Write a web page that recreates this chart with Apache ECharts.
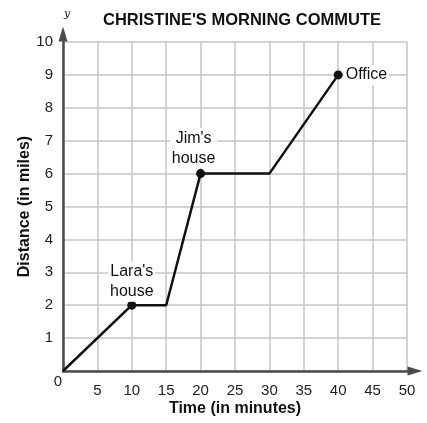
<!DOCTYPE html>
<html>
<head>
<meta charset="utf-8">
<script src="https://cdn.jsdelivr.net/npm/echarts@6/dist/echarts.min.js"></script>
<style>
  html, body { margin: 0; padding: 0; background: #fff; }
  #chart { width: 427px; height: 423px; }
</style>
</head>
<body>
<div id="chart"></div>
<script>
// Christine's trip: elapsed minutes vs. miles travelled
const times = [0, 10, 15, 20, 30, 40];
const distances = [0, 2, 2, 6, 6, 9];
const stopNames = ['', "Lara's\nhouse", '', "Jim's\nhouse", '', 'Office'];

const xTicks = [0, 5, 10, 15, 20, 25, 30, 35, 40, 45, 50];
const yTicks = [0, 1, 2, 3, 4, 5, 6, 7, 8, 9, 10];

const FONT = '"Liberation Sans", Arial, Helvetica, sans-serif';
const AXIS_COLOR = '#4a4a4a';
const GRID_COLOR = '#c4c4c4';

// label placement per stop
const labelStyle = {
  1: { position: 'top', distance: 6, offset: [0, 7] },
  3: { position: 'top', distance: 9, offset: [-7, 8] },
  5: { position: 'right', distance: 1, offset: [0, 0] }
};

const points = times.map((t, i) => {
  const item = { value: [t, distances[i]] };
  if (stopNames[i]) {
    const ls = labelStyle[i];
    item.symbol = 'circle';
    item.symbolSize = 9;
    item.label = {
      show: true,
      formatter: stopNames[i],
      position: ls.position,
      distance: ls.distance,
      offset: ls.offset,
      color: '#111',
      fontSize: 16,
      lineHeight: 20,
      fontFamily: FONT,
      backgroundColor: '#fff',
      padding: [0, 2, 0, 2]
    };
  } else {
    item.symbol = 'none';
  }
  return item;
});

const chart = echarts.init(document.getElementById('chart'), null, { renderer: 'canvas' });

chart.setOption({
  animation: false,
  backgroundColor: '#fff',
  title: [
    {
      text: "CHRISTINE'S MORNING COMMUTE",
      left: 237,
      top: 7,
      textAlign: 'center',
      textStyle: { fontFamily: FONT, fontWeight: 'bold', fontSize: 16.5, color: '#111' }
    },
    {
      text: 'y',
      left: 59,
      top: 4,
      textStyle: { fontFamily: '"DejaVu Serif", "Liberation Serif", serif', fontStyle: 'italic', fontWeight: 'normal', fontSize: 11, color: '#111' }
    }
  ],
  grid: { left: 63, right: 20, top: 42, bottom: 52, containLabel: false },
  xAxis: {
    type: 'value',
    min: xTicks[0],
    max: xTicks[xTicks.length - 1],
    interval: xTicks[1] - xTicks[0],
    name: 'Time (in minutes)',
    nameLocation: 'middle',
    nameGap: 30,
    nameMoveOverlap: false,
    nameTextStyle: { fontFamily: FONT, fontWeight: 'bold', fontSize: 16, color: '#111' },
    axisLine: {
      show: true,
      onZero: false,
      symbol: ['none', 'triangle'],
      symbolSize: [9, 15],
      symbolOffset: [0, 8],
      lineStyle: { color: AXIS_COLOR, width: 2.5 }
    },
    axisTick: { show: false },
    axisLabel: {
      margin: 12,
      fontFamily: FONT,
      fontSize: 15,
      color: '#222',
      formatter: v => (v === 0 ? '' : String(v))
    },
    splitLine: { show: true, lineStyle: { color: GRID_COLOR, width: 1.5 } }
  },
  yAxis: {
    type: 'value',
    min: yTicks[0],
    max: yTicks[yTicks.length - 1],
    interval: yTicks[1] - yTicks[0],
    name: 'Distance (in miles)',
    nameLocation: 'middle',
    nameGap: 30,
    nameMoveOverlap: false,
    nameTextStyle: { fontFamily: FONT, fontWeight: 'bold', fontSize: 16, color: '#111' },
    axisLine: {
      show: true,
      onZero: false,
      symbol: ['none', 'triangle'],
      symbolSize: [9, 15],
      symbolOffset: [0, 8],
      lineStyle: { color: AXIS_COLOR, width: 2.5 }
    },
    axisTick: { show: false },
    axisLabel: {
      margin: 1,
      fontFamily: FONT,
      fontSize: 15,
      color: '#222',
      // the origin "0" sits just below and left of the corner
      formatter: v => (v === 0 ? '{z|0}' : '{n|' + v + '}'),
      rich: {
        n: { fontFamily: FONT, fontSize: 15, color: '#222', padding: [0, 9, 0, 0] },
        z: { fontFamily: FONT, fontSize: 15, color: '#222', padding: [22, 0, 0, 0] }
      }
    },
    splitLine: { show: true, lineStyle: { color: GRID_COLOR, width: 1.5 } }
  },
  series: [
    {
      type: 'line',
      data: points,
      showAllSymbol: true,
      lineStyle: { color: '#111', width: 2.5 },
      itemStyle: { color: '#111' },
      z: 5
    }
  ]
});
</script>
</body>
</html>
